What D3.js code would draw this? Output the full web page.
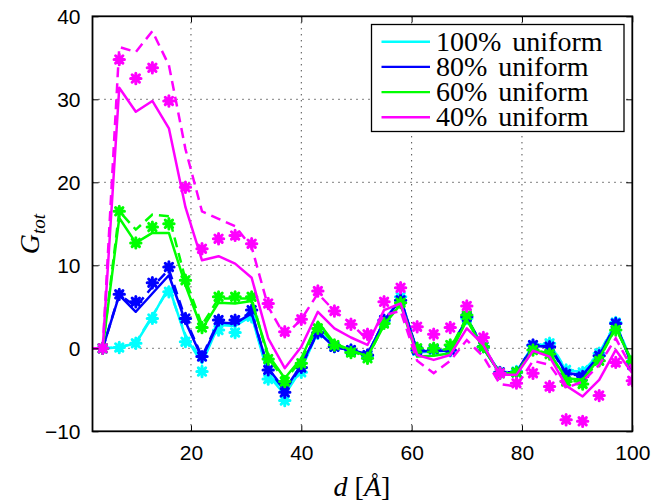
<!DOCTYPE html>
<html>
<head>
<meta charset="utf-8">
<style>
    body { margin: 0; background: #fff; }
    svg { display: block; font-family: "Liberation Sans", Arial, sans-serif; }
    .grid line { stroke: #000; stroke-width: 1; stroke-dasharray: 1, 5; }
    .math { font-family: "Liberation Serif", "Times New Roman", serif; }
</style>
<script src="https://cdn.jsdelivr.net/npm/d3@7"></script>
</head>
<body>
<div id="chart"></div>
<script>
// separation d (Angstrom); the first point sits left of the axis limit
const dValues = [1, 4, 7, 10, 13, 16, 19, 22, 25, 28, 31, 34, 37, 40, 43, 46, 49, 52, 55, 58, 61, 64, 67, 70, 73, 76, 79, 82, 85, 88, 91, 94, 97, 100];

const xTicks = [20, 40, 60, 80, 100];
const yTicks = [-10, 0, 10, 20, 30, 40];

const seriesNames = ["100% uniform", "80% uniform", "60% uniform", "40% uniform"];
const seriesColors = ["#00ffff", "#0000ff", "#00ff00", "#ff00ff"];

// 100% uniform
const cyanSolid  = [0, 0, 0.1, 0.6, 3.8, 7.4, 1.4, -1.8, 2.8, 2.7, 3.9, -3.2, -5.6, -2.5, 2.0, 0.3, -0.2, -0.9, 3.2, 6.0, -0.5, -0.4, -0.3, 3.5, 0.1, -3.0, -2.9, 0.2, 0.6, -2.7, -2.8, -0.7, 3.0, -1.9];
const cyanDashed = [0, 0, 0.1, 0.7, 3.9, 7.2, 1.6, -1.5, 2.9, 2.8, 4.0, -3.0, -5.4, -2.4, 2.1, 0.3, -0.2, -0.8, 3.3, 6.1, -0.4, -0.3, -0.2, 3.6, 0.1, -2.9, -2.8, 0.3, 0.7, -2.6, -2.7, -0.6, 3.1, -1.8];
const cyanStars  = [0, 0, 0.1, 0.6, 3.6, 6.8, 0.8, -2.8, 2.2, 1.9, 3.8, -3.7, -6.3, -2.9, 1.8, 0.2, -0.3, -0.9, 3.3, 6.2, -0.3, -0.2, -0.3, 3.6, 0.2, -2.9, -2.8, 0.3, 0.6, -2.6, -2.9, -0.6, 3.1, -1.8];

// 80% uniform
const blueSolid  = [0, 0, 6.4, 4.4, 6.6, 8.8, 3.2, -1.2, 3.1, 3.0, 4.2, -2.4, -5.0, -2.0, 2.0, 0.1, -0.2, -0.7, 3.2, 6.0, -0.4, -0.3, -0.3, 3.6, 0.0, -3.0, -2.9, 0.2, 0.3, -3.0, -3.2, -0.9, 2.8, -2.0];
const blueDashed = [0, 0, 6.5, 5.0, 7.4, 9.5, 3.5, -1.0, 3.3, 3.2, 4.4, -2.5, -5.1, -2.2, 2.0, 0.2, -0.2, -0.8, 3.3, 5.9, -0.3, -0.2, -0.2, 3.7, 0.1, -2.9, -2.9, 0.3, 0.2, -3.1, -3.3, -0.9, 2.9, -2.0];
const blueStars  = [0, 0, 6.5, 5.6, 7.9, 9.8, 3.6, -1.0, 3.4, 3.4, 4.6, -2.6, -5.3, -2.3, 1.9, 0.2, -0.2, -0.8, 3.4, 5.8, -0.2, -0.1, -0.2, 3.8, 0.2, -2.9, -2.9, 0.4, 0.2, -3.1, -3.4, -0.9, 3.0, -2.0];

// 60% uniform
const greenSolid  = [0, 0, 15.7, 12.7, 13.9, 13.9, 7.6, 2.3, 5.5, 5.4, 5.7, -0.8, -3.6, -1.2, 3.2, 0.6, -0.2, -1.0, 2.8, 5.3, -1.0, -0.9, -0.6, 3.4, 0.0, -3.0, -3.0, -0.3, -0.6, -3.6, -3.8, -1.2, 2.5, -1.7];
const greenDashed = [0, 0, 16.5, 14.3, 16.1, 15.9, 8.3, 2.8, 6.0, 6.0, 6.0, -1.2, -3.8, -1.5, 2.8, 0.5, -0.3, -1.1, 2.9, 5.4, -0.5, -0.4, 0.0, 3.7, 0.1, -3.0, -3.0, -0.2, -0.6, -3.8, -4.1, -1.3, 2.4, -1.6];
const greenStars  = [0, 0, 16.5, 12.7, 14.6, 15.0, 8.2, 2.5, 6.2, 6.2, 6.2, -1.3, -4.0, -1.8, 2.4, 0.4, -0.5, -1.2, 3.0, 5.5, 0.0, 0.0, 0.4, 4.0, 0.2, -3.0, -2.9, -0.2, -0.7, -4.0, -4.3, -1.5, 2.2, -1.6];

// 40% uniform
const magentaSolid  = [0, 0, 31.4, 28.5, 29.8, 26.5, 17.0, 10.6, 11.1, 10.2, 8.5, 1.2, -2.4, 0.2, 4.4, 2.4, 1.3, 0.4, 4.6, 5.4, -0.8, -1.4, -0.8, 2.4, 0.4, -3.2, -3.2, -0.3, -1.0, -4.5, -5.8, -3.8, -0.2, -3.0];
const magentaDashed = [0, 0, 36.3, 35.7, 38.2, 34.1, 24.0, 16.5, 15.6, 14.7, 12.2, 5.0, 1.5, 3.5, 6.6, 4.5, 3.0, 1.0, 4.0, 4.5, -1.5, -3.0, -1.5, 1.0, -1.0, -4.3, -4.6, -1.5, -2.0, -4.8, -4.0, -2.0, 1.2, -2.5];
const magentaStars  = [0, 0, 34.8, 32.5, 33.8, 29.8, 19.4, 12.0, 13.2, 13.6, 12.6, 5.4, 2.0, 3.5, 6.9, 4.5, 2.9, 1.7, 5.6, 7.3, 2.6, 1.7, 2.5, 5.1, 1.3, -3.0, -4.2, -3.0, -4.6, -8.6, -8.8, -5.7, -1.7, -3.9];

const solidSets  = [cyanSolid, blueSolid, greenSolid, magentaSolid];
const dashedSets = [cyanDashed, blueDashed, greenDashed, magentaDashed];
const starSets   = [cyanStars, blueStars, greenStars, magentaStars];

const width = 656, height = 504;
const plot = { left: 92.5, right: 632.3, top: 16.3, bottom: 431.3 };

const svg = d3.select("#chart").append("svg")
    .attr("width", width)
    .attr("height", height);

svg.append("rect").attr("width", width).attr("height", height).attr("fill", "#fff");

const x = d3.scaleLinear().domain([2.15, 100]).range([plot.left, plot.right]);
const y = d3.scaleLinear().domain([-10, 40]).range([plot.bottom, plot.top]);

svg.append("clipPath").attr("id", "clip")
    .append("rect")
    .attr("x", plot.left).attr("y", plot.top)
    .attr("width", plot.right - plot.left)
    .attr("height", plot.bottom - plot.top);

// dotted grid
const grid = svg.append("g").attr("class", "grid");
grid.selectAll(".gx").data(xTicks.filter(t => t < 100)).enter().append("line")
    .attr("x1", d => x(d)).attr("x2", d => x(d))
    .attr("y1", plot.top).attr("y2", plot.bottom);
grid.selectAll(".gy").data(yTicks.filter(t => t > -10 && t < 40)).enter().append("line")
    .attr("x1", plot.left).attr("x2", plot.right)
    .attr("y1", d => y(d)).attr("y2", d => y(d));

// data
const marks = svg.append("g").attr("clip-path", "url(#clip)");
const line = d3.line().x((d, i) => x(dValues[i])).y(d => y(d));

function starPath(r) {
    const a = r * Math.SQRT1_2;
    return `M${-r},0L${r},0M0,${-r}L0,${r}M${-a},${-a}L${a},${a}M${-a},${a}L${a},${-a}`;
}

seriesColors.forEach((color, s) => {
    marks.append("path")
        .datum(solidSets[s])
        .attr("d", line)
        .attr("fill", "none")
        .attr("stroke", color)
        .attr("stroke-width", 2.5)
        .attr("stroke-linejoin", "round");
    marks.append("path")
        .datum(dashedSets[s])
        .attr("d", line)
        .attr("fill", "none")
        .attr("stroke", color)
        .attr("stroke-width", 2.5)
        .attr("stroke-dasharray", "10,6");
    marks.append("g").selectAll("path")
        .data(starSets[s])
        .enter().append("path")
        .attr("transform", (d, i) => `translate(${x(dValues[i])},${y(d)})`)
        .attr("d", starPath(5.2))
        .attr("stroke", color)
        .attr("stroke-width", 3)
        .attr("stroke-linecap", "round");
});

// axes box with inward ticks
const axisG = svg.append("g");
const xAxisB = d3.axisBottom(x).tickValues(xTicks).tickSize(-6).tickPadding(14).tickFormat(d3.format("d"));
const xAxisT = d3.axisTop(x).tickValues(xTicks).tickSize(-6).tickFormat("");
const yAxisL = d3.axisLeft(y).tickValues(yTicks).tickSize(-6).tickPadding(12)
    .tickFormat(d => d < 0 ? "\u2212" + Math.abs(d) : d);
const yAxisR = d3.axisRight(y).tickValues(yTicks).tickSize(-6).tickFormat("");

[[xAxisB, `translate(0,${plot.bottom})`], [xAxisT, `translate(0,${plot.top})`],
 [yAxisL, `translate(${plot.left},0)`], [yAxisR, `translate(${plot.right},0)`]]
.forEach(([ax, tr]) => {
    const g = axisG.append("g").attr("transform", tr).call(ax);
    g.select(".domain").remove();
    g.selectAll(".tick line").attr("stroke", "#000").attr("stroke-width", 1);
    g.selectAll("text").attr("font-size", 21).attr("fill", "#000")
        .attr("font-family", "'Liberation Sans', Arial, sans-serif");
});

axisG.append("rect")
    .attr("x", plot.left).attr("y", plot.top)
    .attr("width", plot.right - plot.left)
    .attr("height", plot.bottom - plot.top)
    .attr("fill", "none").attr("stroke", "#000").attr("stroke-width", 1.8);

// axis titles
const yTitle = svg.append("text").attr("class", "math")
    .attr("transform", "translate(39,234) rotate(-90)")
    .attr("text-anchor", "middle")
    .attr("font-size", 28).attr("font-style", "italic");
yTitle.append("tspan").text("G");
yTitle.append("tspan").attr("font-size", 19).attr("dy", 6).text("tot");

const xTitle = svg.append("text").attr("class", "math")
    .attr("x", 362).attr("y", 496)
    .attr("text-anchor", "middle")
    .attr("font-size", 28);
xTitle.append("tspan").attr("font-style", "italic").text("d");
xTitle.append("tspan").text(" [");
xTitle.append("tspan").attr("font-style", "italic").text("\u00C5");
xTitle.append("tspan").text("]");

// legend
const legend = svg.append("g");
legend.append("rect")
    .attr("x", 371.5).attr("y", 24.5).attr("width", 252.5).attr("height", 107)
    .attr("fill", "#fff").attr("stroke", "#000").attr("stroke-width", 1.3);
const rowY = d3.scaleLinear().domain([0, 3]).range([41.7, 117.3]);
seriesNames.forEach((name, i) => {
    legend.append("line")
        .attr("x1", 381.5).attr("x2", 430)
        .attr("y1", rowY(i)).attr("y2", rowY(i))
        .attr("stroke", seriesColors[i]).attr("stroke-width", 2.4);
    const parts = name.split(" ");
    const pct = legend.append("text").attr("class", "math")
        .attr("x", 436).attr("y", rowY(i) + 9)
        .attr("font-size", 28).text(parts[0]);
    const w = pct.node().getComputedTextLength();
    legend.append("text").attr("class", "math")
        .attr("x", 436 + w + 11).attr("y", rowY(i) + 9)
        .attr("font-size", 28).text(parts[1]);
});
</script>
</body>
</html>
